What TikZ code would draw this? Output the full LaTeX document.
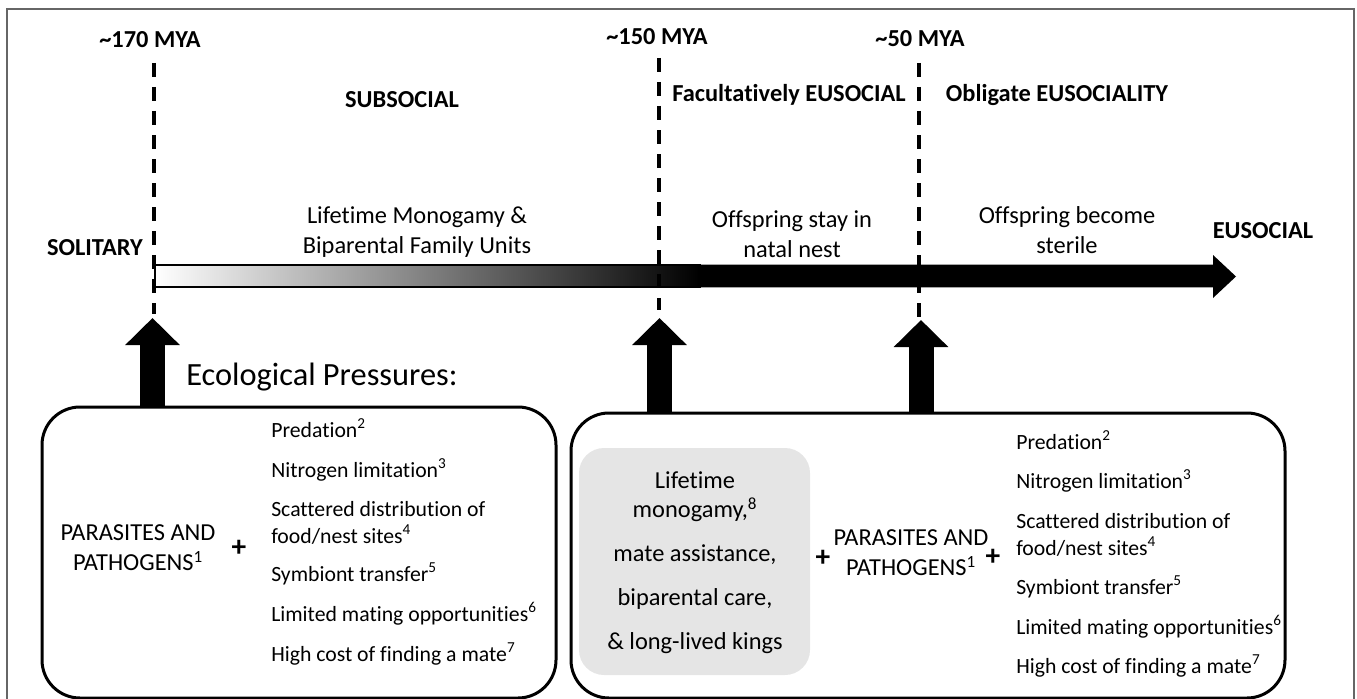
\documentclass[tikz,border=0pt]{standalone}
\usepackage{fontspec}
\setmainfont{Carlito}[Ligatures=NoCommon]
\usetikzlibrary{arrows.meta}
\begin{document}
\begin{tikzpicture}[x=0.75pt,y=-0.75pt,
  lbl/.style={font=\fontsize{18.3}{22.5}\selectfont, inner sep=0pt, align=center},
  blbl/.style={font=\bfseries\fontsize{18.3}{22.5}\selectfont, inner sep=0pt},
  item/.style={font=\fontsize{16.3}{20}\selectfont, inner sep=0pt, anchor=west, text height=0.68em, text depth=0.18em},
  era/.style={dash pattern=on 10.5pt off 7.5pt, line width=2.6pt},
  pressure/.style={line width=18.75pt, -{Triangle[width=39.75pt,length=20.25pt]}},
  bigbox/.style={draw, line width=2.25pt, rounded corners=28.5pt, inner sep=0pt},
  graybox/.style={fill=black!10, rounded corners=18.75pt, inner sep=0pt},
  plus/.style={font=\bfseries\fontsize{22}{22}\selectfont, inner sep=0pt}
]
\useasboundingbox (0,0) rectangle (1357,699);
\clip (0,0) rectangle (1357,699);

% outer frame
\draw[black!60, line width=1.1pt] (7,9) rectangle (1354,730);

% top labels
\node[blbl] (m170) at (150,40) {\textasciitilde170 MYA};
\node[blbl] (m150) at (657,37) {\textasciitilde150 MYA};
\node[blbl] (m50) at (920,39) {\textasciitilde50 MYA};
\node[blbl] (sub) at (402,100) {SUBSOCIAL};
\node[blbl] (fac) at (789,95) {Facultatively EUSOCIAL};
\node[blbl] (obl) at (1057,95) {Obligate EUSOCIALITY};
\node[blbl] (sol) at (95,248) {SOLITARY};
\node[blbl] (eus) at (1263,231) {EUSOCIAL};
\node[lbl] (mono) at (417,232) {Lifetime Monogamy \&\\Biparental Family Units};
\node[lbl] (stay) at (792,234) {Offspring stay in\\natal nest};
\node[lbl] (ster) at (1067,230.5) {Offspring become\\sterile};

% main timeline arrow
\shadedraw[left color=white, right color=black, draw=black, line width=1.1pt] (155,265) rectangle (700,287);
\fill (698,264.6) -- (1213,264.6) -- (1213,255) -- (1236,276.5) -- (1213,298) -- (1213,287.4) -- (698,287.4) -- cycle;

% era dividers
\coordinate (d1t) at (154,63);  \coordinate (d1b) at (154,314);
\coordinate (d2t) at (659,58);  \coordinate (d2b) at (659,310);
\coordinate (d3t) at (919,63);  \coordinate (d3b) at (919,320);
\draw[era] (d1t) -- (d1b);
\draw[era] (d2t) -- (d2b);
\draw[era] (d3t) -- (d3b);

% boxes
\node[bigbox, minimum width=385.5pt, minimum height=218.25pt] (L) at (299,552.5) {};
\node[bigbox, minimum width=535.5pt, minimum height=213.75pt] (R) at (928,555.5) {};
\node[graybox, minimum width=173.25pt, minimum height=170.25pt] (G) at (694.5,561.5) {};

% pressure arrows
\coordinate (t1) at (152.5,318);
\coordinate (t2) at (659.5,318);
\coordinate (t3) at (921,320);
\draw[pressure] (t1 |- L.north) -- (t1);
\draw[pressure] (t2 |- R.north) -- (t2);
\draw[pressure] (t3 |- R.north) -- (t3);

\node[anchor=west, font=\fontsize{24.3}{28}\selectfont, inner sep=0pt] (eco) at (186,377) {Ecological Pressures:};

% left box content
\node[lbl] (par1) at (138,548) {PARASITES AND\\PATHOGENS\textsuperscript{1}};
\node[plus] (p1) at (239,548) {+};
\node[item] (a1) at (271,434) {Predation\textsuperscript{2}};
\node[item] (a2) at (271,474) {Nitrogen limitation\textsuperscript{3}};
\node[item] (a3) at (271,513) {Scattered distribution of};
\node[item] (a4) at (271,540) {food/nest sites\textsuperscript{4}};
\node[item] (a5) at (271,578) {Symbiont transfer\textsuperscript{5}};
\node[item] (a6) at (271,618) {Limited mating opportunities\textsuperscript{6}};
\node[item] (a7) at (271,658) {High cost of finding a mate\textsuperscript{7}};

% right box content
\node[lbl] (g1) at (695,480) {Lifetime};
\node[lbl] (g2) at (695,510) {monogamy,\textsuperscript{8}};
\node[lbl] (g3) at (695,555) {mate assistance,};
\node[lbl] (g4) at (695,599) {biparental care,};
\node[lbl] (g5) at (695,643) {\& long-lived kings};
\node[plus] (p2) at (823,558) {+};
\node[lbl] (par2) at (911,553) {PARASITES AND\\PATHOGENS\textsuperscript{1}};
\node[plus] (p3) at (993,557) {+};
\node[item] (b1) at (1016,446) {Predation\textsuperscript{2}};
\node[item] (b2) at (1016,485) {Nitrogen limitation\textsuperscript{3}};
\node[item] (b3) at (1016,525) {Scattered distribution of};
\node[item] (b4) at (1016,552) {food/nest sites\textsuperscript{4}};
\node[item] (b5) at (1016,591) {Symbiont transfer\textsuperscript{5}};
\node[item] (b6) at (1016,631) {Limited mating opportunities\textsuperscript{6}};
\node[item] (b7) at (1016,670) {High cost of finding a mate\textsuperscript{7}};
\end{tikzpicture}
\end{document}
